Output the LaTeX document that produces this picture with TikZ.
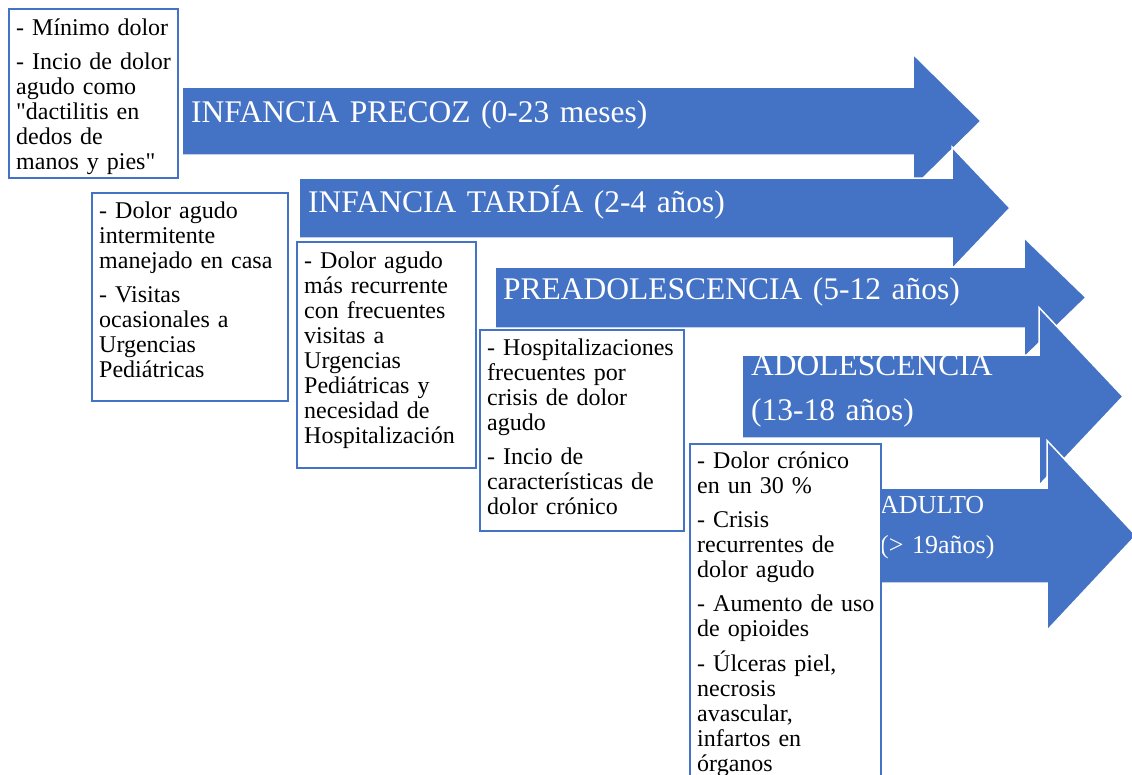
\documentclass[tikz,border=0pt]{standalone}
\usepackage{fontspec}
\setmainfont{Liberation Serif}[Ligatures=TeXOff]
\definecolor{azulflecha}{HTML}{4472C4}
% flecha: x izq, y centro, medio cuerpo, x base punta, media punta, x punta
\newcommand{\flecha}[6]{%
	\draw[flecha] (#1,#2-#3) -- (#4,#2-#3) -- (#4,#2-#5) -- (#6,#2) -- (#4,#2+#5) -- (#4,#2+#3) -- (#1,#2+#3) -- cycle;}
\begin{document}
\begin{tikzpicture}[x=1pt, y=-1pt, line join=miter,
	flecha/.style={fill=azulflecha, draw=white, line width=1.5pt},
	caja/.style={draw=azulflecha, line width=2pt, fill=white, anchor=north west, inner sep=0pt},
	texto/.style={anchor=base west, inner sep=0pt, text width=240pt, align=left, font=\fontsize{24}{25}\selectfont},
	titulo/.style={anchor=base west, inner sep=0pt, text width=480pt, align=left, text=white, font=\fontsize{31.5}{45}\selectfont}]
	\useasboundingbox (0,0) rectangle (1132,774);
	\flecha{182}{121}{34}{913}{67}{981}
	\flecha{299}{208}{30}{952}{61}{1010}
	\flecha{495}{297.5}{30.5}{1024}{60}{1086}
	\flecha{742}{396.5}{41.5}{1039}{89}{1123}
	\flecha{860}{535.5}{47.5}{1047}{95}{1136}
	\node[titulo] (T1) at (191,122) {INFANCIA PRECOZ (0-23 meses)};
	\node[titulo] (T2) at (308,212) {INFANCIA TARDÍA (2-4 años)};
	\node[titulo] (T3) at (503,299) {PREADOLESCENCIA (5-12 años)};
	\node[titulo] (T4) at (751,375) {ADOLESCENCIA\\(13-18 años)};
	\node[titulo, font=\fontsize{26}{40}\selectfont] (T5) at (880,513) {ADULTO\\(> 19años)};
	\node[caja, minimum width=169pt, minimum height=169pt] (B1) at (8,8) {};
	\node[caja, minimum width=196pt, minimum height=208pt] (B2) at (91,192) {};
	\node[caja, minimum width=179pt, minimum height=226pt] (B3) at (296,241) {};
	\node[caja, minimum width=204pt, minimum height=201pt] (B4) at (479,329) {};
	\node[caja, minimum width=191pt, minimum height=345pt] (B5) at (689,443) {};
	\node[texto] (C1) at ([shift={(8,27)}]B1.north west) {- Mínimo dolor\\[9pt]- Incio de dolor\\agudo como\\"dactilitis en\\dedos de\\manos y pies"};
	\node[texto] (C2) at ([shift={(8,26)}]B2.north west) {- Dolor agudo\\intermitente\\manejado en casa\\[9pt]- Visitas\\ocasionales a\\Urgencias\\Pediátricas};
	\node[texto] (C3) at ([shift={(8,27)}]B3.north west) {- Dolor agudo\\más recurrente\\con frecuentes\\visitas a\\Urgencias\\Pediátricas y\\necesidad de\\Hospitalización};
	\node[texto] (C4) at ([shift={(8,26)}]B4.north west) {- Hospitalizaciones\\frecuentes por\\crisis de dolor\\agudo\\[9pt]- Incio de\\características de\\dolor crónico};
	\node[texto] (C5) at ([shift={(8,25)}]B5.north west) {- Dolor crónico\\en un 30 \%\\[9pt]- Crisis\\recurrentes de\\dolor agudo\\[9pt]- Aumento de uso\\de opioides\\[9pt]- Úlceras piel,\\necrosis\\avascular,\\infartos en\\órganos};
\end{tikzpicture}
\end{document}
